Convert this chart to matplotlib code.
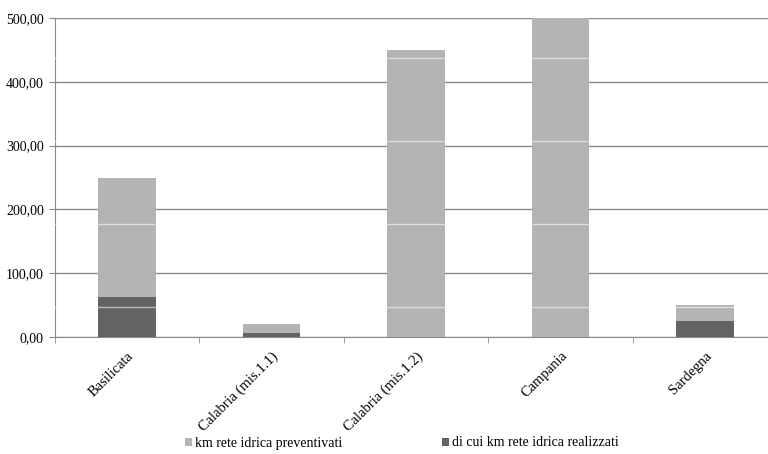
import numpy as np
import matplotlib
matplotlib.use('Agg')
import matplotlib.pyplot as plt
from matplotlib.ticker import FuncFormatter

regioni = ['Basilicata', 'Calabria (mis.1.1)', 'Calabria (mis.1.2)', 'Campania', 'Sardegna']
km_preventivati = [250, 20, 450, 500, 50]
km_realizzati = [63, 7, 0, 0, 25]

plt.rcParams['font.family'] = ['Liberation Serif', 'DejaVu Serif']

fig = plt.figure(figsize=(7.68, 4.54), dpi=100)
# axes run slightly past the right edge of the figure
ax = fig.add_axes([55/768, 1 - 337/454, 722/768, 319/454])

x = np.arange(len(regioni))
w = 0.4
ax.bar(x, km_preventivati, w, color='#b3b3b3', zorder=2, label='km rete idrica preventivati')
ax.bar(x, km_realizzati, w, color='#636363', zorder=3, label='di cui km rete idrica realizzati')

# faint horizontal bands across the bars
for yb in [47, 177, 307, 438]:
    ax.axhline(yb, color='white', lw=1, alpha=0.55, zorder=4)

ax.set_xlim(-0.5, len(regioni) - 0.5)
ax.set_ylim(0, 500)
ax.set_yticks(np.arange(0, 501, 100))
ax.yaxis.set_major_formatter(FuncFormatter(lambda v, p: f'{v:.2f}'.replace('.', ',')))
ax.yaxis.grid(True, color='#8a8a8a', lw=1, zorder=1)
ax.set_axisbelow(True)

ax.set_xticks(x)
ax.set_xticklabels(regioni, rotation=45, ha='right', rotation_mode='anchor', fontsize=10.5)
ax.set_xticks(np.arange(-0.5, len(regioni)), minor=True)
ax.tick_params(axis='x', which='major', length=0, pad=9)
ax.tick_params(axis='x', which='minor', length=4, color='#8a8a8a')
ax.tick_params(axis='y', length=4, color='#8a8a8a', labelsize=10, pad=4)

for s in ['top', 'right']:
    ax.spines[s].set_visible(False)
for s in ['left', 'bottom']:
    ax.spines[s].set_color('#8a8a8a')

fig.legend(loc='center', bbox_to_anchor=(402/768, 1 - 443/454), ncol=2, frameon=False,
           fontsize=10, handlelength=0.5, handleheight=0.5, handletextpad=0.2,
           columnspacing=7.2)

fig.savefig('out.png', dpi=100)
